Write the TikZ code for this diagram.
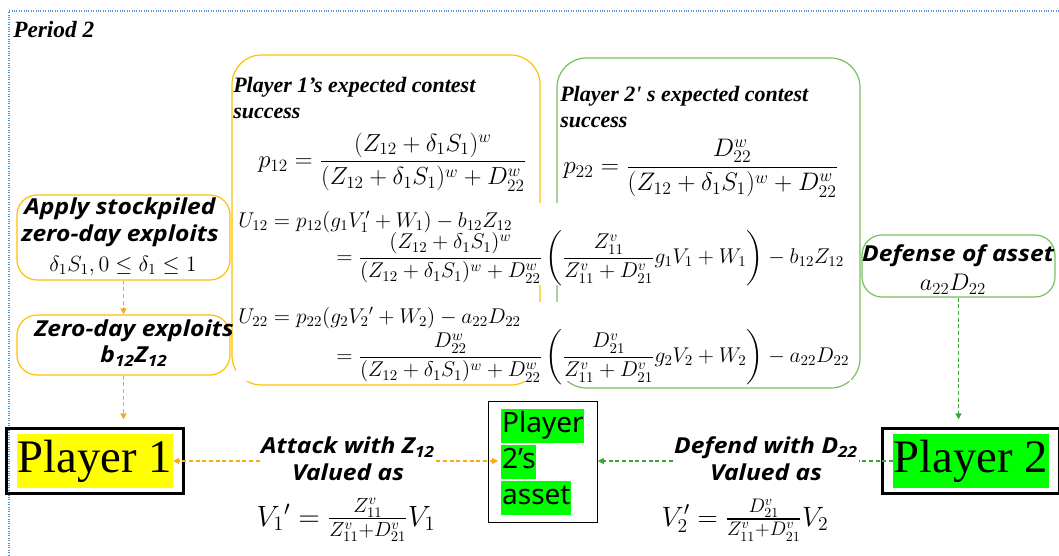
\RequirePackage{fix-cm}
\documentclass[tikz,border=0pt]{standalone}
\usepackage{amsmath}
\usepackage{fontspec}
\newfontfamily\serifbi{Liberation Serif}
\newfontfamily\labsans{Open Sans}[FakeStretch=1.12]
\newfontfamily\assetsans{Noto Sans}
\usepackage{xcolor}
\usepackage{tikz}
\usetikzlibrary{arrows.meta,positioning,calc,fit}
\definecolor{gyel}{RGB}{255,192,0}
\definecolor{gyarr}{RGB}{250,170,20}
\definecolor{ggrn}{RGB}{118,192,96}
\definecolor{ggarr}{RGB}{60,165,55}
\definecolor{gblue}{RGB}{90,140,220}
\definecolor{hlyel}{RGB}{255,255,0}
\definecolor{hlgrn}{RGB}{0,255,0}
\tikzset{
  gpx/.style={x=0.75pt, y=-0.75pt},
  g panel y/.style={draw=gyel, line width=0.9pt, rounded corners=22pt, inner sep=0pt},
  g panel g/.style={draw=ggrn, line width=0.9pt, rounded corners=22pt, inner sep=0pt},
  g box y/.style={draw=gyel, line width=0.9pt, rounded corners=15pt, inner sep=0pt},
  g box g/.style={draw=ggrn, line width=0.9pt, rounded corners=15pt, inner sep=0pt},
  g cover/.style={fill=white, inner sep=0pt},
  g title/.style={font=\serifbi\bfseries\itshape\fontsize{16.5}{19.5}\selectfont,
                  anchor=north west, align=left, inner sep=0pt},
  g lab/.style={font=\labsans\bfseries\itshape\fontsize{16.5}{20}\selectfont, align=center, inner sep=1pt},
  g eq/.style={font=\fontsize{18.5}{22}\selectfont, inner sep=0pt},
  g eqs/.style={font=\fontsize{16}{19}\selectfont, inner sep=0pt, anchor=west},
  g player/.style={font=\serifbi\fontsize{35}{40}\selectfont, inner xsep=0.5pt, inner ysep=4pt},
  g frame/.style={draw=black, line width=2.2pt, inner xsep=8pt, inner ysep=4pt},
  g asset/.style={draw=black, line width=0.6pt, align=left, font=\assetsans\fontsize{21}{25}\selectfont,
                  minimum width=81.75pt, minimum height=90.75pt, inner sep=2pt},
  g arr y/.style={draw=gyarr, line width=0.9pt, dash pattern=on 3pt off 2pt,
                  -{Triangle[length=4.5pt, width=4.5pt]}},
  g ln g/.style={draw=ggarr, line width=0.9pt, dash pattern=on 3pt off 2pt},
  g arr g/.style={g ln g, -{Triangle[length=4.5pt, width=4.5pt]}},
}
\newcommand{\hlg}[1]{{\setlength{\fboxsep}{0.5pt}\colorbox{hlgrn}{\strut#1}}}

\begin{document}
\begin{tikzpicture}[gpx]
\useasboundingbox (0,0) rectangle (1059,556);
\draw[gblue, densely dotted, line width=0.8pt] (1059,11) -- (9,11) -- (9,556);
\node[g title, anchor=west, font=\serifbi\bfseries\itshape\fontsize{17.5}{20}\selectfont] (per) at (13,30) {Period 2};
% ---- contest success panels ----
\node[g panel y, fit={(232,55) (540,385)}] (py) {};
\node[g panel g, fit={(557,58) (860,388)}] (pg) {};
\node[g title] (py1) at (233,77) {Player 1’s expected contest\\success};
\node[g eq, anchor=west] (p12) at (258,162)
  {$p_{12} = \dfrac{(Z_{12}+\delta_1S_1)^w}{(Z_{12}+\delta_1S_1)^w+D_{22}^w}$};
\node[g title] (pg1) at (560,86) {Player 2' s expected contest\\success};
\node[g eq, anchor=west, font=\fontsize{19}{22}\selectfont] (p22) at (563,168)
  {$p_{22} = \dfrac{D_{22}^w}{(Z_{12}+\delta_1S_1)^w+D_{22}^w}$};
% ---- payoffs ----
\node[g cover, fit={(236,203) (851,285)}] (c12) {};
\node[g cover, fit={(236,302) (851,381)}] (c22) {};
\node[g eqs] (u12a) at (238,222) {$U_{12} = p_{12}(g_1V_1' + W_1) - b_{12}Z_{12}$};
\node[g eqs] (u12b) at (336,258)
  {$= \dfrac{(Z_{12}+\delta_1S_1)^w}{(Z_{12}+\delta_1S_1)^w+D_{22}^w}\left(\dfrac{Z_{11}^v}{Z_{11}^v+D_{21}^v}g_1V_1+W_1\right) - b_{12}Z_{12}$};
\node[g eqs] (u22a) at (238,318) {$U_{22} = p_{22}(g_2V_2{}' + W_2) - a_{22}D_{22}$};
\node[g eqs] (u22b) at (336,357)
  {$= \dfrac{D_{22}^w}{(Z_{12}+\delta_1S_1)^w+D_{22}^w}\left(\dfrac{D_{21}^v}{Z_{11}^v+D_{21}^v}g_2V_2+W_2\right) - a_{22}D_{22}$};
% ---- player 1 side ----
\node[g box y, fit={(17,195) (230,280)}] (s1) {};
\node[g lab] (s1t) at (120,222) {Apply stockpiled\\zero-day exploits};
\node[g eq, font=\fontsize{16.5}{20}\selectfont] (s1m) at (123,266) {$\delta_1S_1, 0 \le \delta_1 \le 1$};
\node[g box y, fit={(17,315) (230,375)}] (s2) {};
\node[g lab] (s2t) at (134,343) {Zero-day exploits\\b\textsubscript{12}Z\textsubscript{12}};
\node[g player, fill=hlyel] (p1) at (95,461) {Player 1};
\node[g frame, fit=(p1)] (p1f) {};
\draw[g arr y] (s1) -- (s2);
\draw[g arr y, shorten >=6pt] (s2.south) -- (s2.south |- p1f.north);
% ---- asset and attack ----
\node[g asset, anchor=north west] (asset) at (488,401) {\hlg{Player}\\\hlg{2’s}\\\hlg{asset}};
\node[g lab] (atk) at (348,459) {Attack with Z\textsubscript{12}\\Valued as};
\node[g eq, font=\fontsize{22}{26}\selectfont] (v1) at (346,520)
  {$V_1{}' = \frac{Z_{11}^v}{Z_{11}^v+D_{21}^v}V_1$};
\draw[g arr y] (atk.west |- p1) -- (p1);
\draw[g arr y, shorten >=-7.5pt] (atk.east |- p1) -- (asset.west |- p1);
% ---- player 2 side ----
\node[g box g, fit={(862,235) (1055,297)}] (def) {};
\node[g lab] (deft) at (958,256) {Defense of asset};
\node[g eq, font=\fontsize{18}{22}\selectfont] (defm) at (953,284) {$a_{22}D_{22}$};
\node[g player, fill=hlgrn] (p2) at (971,461) {Player 2};
\node[g frame, fit=(p2)] (p2f) {};
\draw[g arr g, shorten >=6pt] (def) -- (def.south |- p2f.north);
\node[g lab] (dfd) at (766,459) {Defend with D\textsubscript{22}\\Valued as};
\node[g eq, font=\fontsize{21}{25}\selectfont] (v2) at (745,520)
  {$V_2' = \frac{D_{21}^v}{Z_{11}^v+D_{21}^v}V_2$};
\draw[g ln g] (p2) -- (dfd.east |- p2);
\draw[g arr g] (dfd.west |- p2) -- (asset.east |- p2);
\end{tikzpicture}
\end{document}
